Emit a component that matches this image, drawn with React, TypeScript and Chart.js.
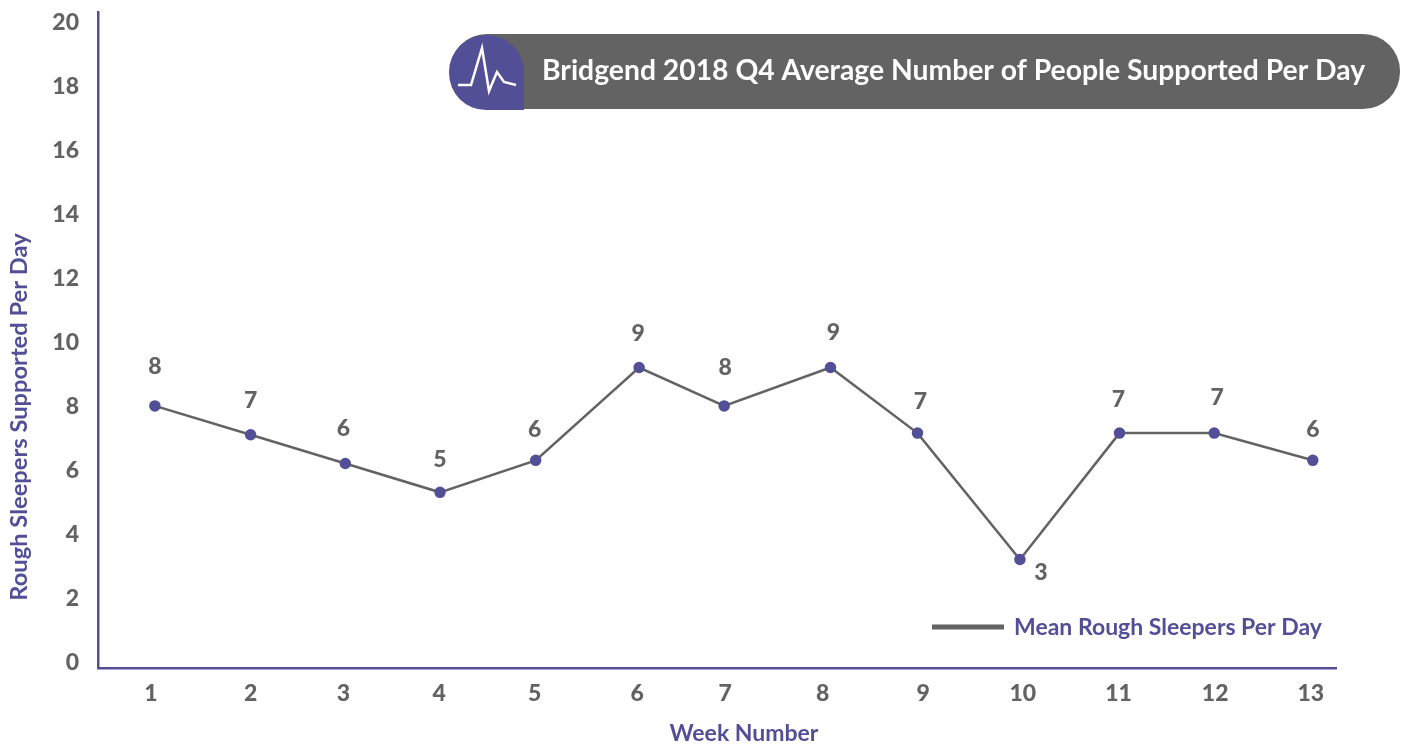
import React, { useEffect, useRef } from "react";
import { Chart, registerables } from "chart.js";

Chart.register(...registerables);

const chartTitle = "Bridgend 2018 Q4 Average Number of People Supported Per Day";
const yAxisTitle = "Rough Sleepers Supported Per Day";
const xAxisTitle = "Week Number";
const seriesName = "Mean Rough Sleepers Per Day";
// Horizontal placement in week units (the original spacing is slightly uneven).
const pointWeeks = [1.04, 2.03, 3.01, 3.99, 4.98, 6.05, 6.93, 8.03, 8.93, 9.99, 11.02, 12.0, 13.02];
const tickWeeks = [1, 2.03, 2.99, 3.98, 4.97, 6.03, 6.94, 7.95, 8.99, 10.02, 11.01, 12.01, 13];
const tickLabels = ["1", "2", "3", "4", "5", "6", "7", "8", "9", "10", "11", "12", "13"];
const meanValues = [8.0, 7.1, 6.2, 5.3, 6.3, 9.2, 8.0, 9.2, 7.15, 3.2, 7.15, 7.15, 6.3];
const valueLabels = ["8", "7", "6", "5", "6", "9", "8", "9", "7", "3", "7", "7", "6"];
const yTicks = [0, 2, 4, 6, 8, 10, 12, 14, 16, 18, 20];

const PURPLE = "#534f96";
const GREY = "#636363";
const FONT = "Lato";

const labelShift: [number, number][] = [
  [0, -39], [0, -34], [-2, -35], [0, -33], [-1, -31], [-1, -34], [1, -38], [3, -35],
  [3, -32], [21, 13], [-1, -34], [3, -36], [0, -31],
];

const decorations = {
  id: "decorations",
  afterDraw(chart: any) {
    const ctx = chart.ctx as CanvasRenderingContext2D;
    const meta = chart.getDatasetMeta(0);
    ctx.save();
    // value labels
    ctx.font = `900 23px ${FONT}`;
    ctx.fillStyle = GREY;
    ctx.textAlign = "center";
    ctx.textBaseline = "middle";
    meta.data.forEach((p: any, i: number) => {
      ctx.fillText(valueLabels[i], p.x + labelShift[i][0], p.y + labelShift[i][1]);
    });
    // axis titles
    ctx.font = `700 23px ${FONT}`;
    ctx.fillStyle = PURPLE;
    ctx.fillText(xAxisTitle, 744, 734);
    ctx.save();
    ctx.translate(19, 417);
    ctx.rotate(-Math.PI / 2);
    ctx.font = `700 23.7px ${FONT}`;
    ctx.fillText(yAxisTitle, 0, 0);
    ctx.restore();
    // legend
    ctx.strokeStyle = GREY;
    ctx.lineWidth = 5;
    ctx.beginPath();
    ctx.moveTo(932, 627);
    ctx.lineTo(1004, 627);
    ctx.stroke();
    ctx.textAlign = "left";
    ctx.font = `700 23px ${FONT}`;
    ctx.fillStyle = PURPLE;
    ctx.fillText(seriesName, 1014, 628);
    // title pill
    ctx.fillStyle = GREY;
    ctx.beginPath();
    ctx.roundRect(450, 34, 950, 75, 37);
    ctx.fill();
    ctx.fillStyle = PURPLE;
    ctx.beginPath();
    ctx.roundRect(449, 35, 75, 75, [37, 37, 0, 37]);
    ctx.fill();
    ctx.strokeStyle = "#ffffff";
    ctx.lineWidth = 2.5;
    ctx.lineJoin = "miter";
    ctx.beginPath();
    ctx.moveTo(458, 85);
    ctx.lineTo(471, 85);
    ctx.lineTo(482, 48);
    ctx.lineTo(489, 91);
    ctx.lineTo(497, 72);
    ctx.lineTo(504, 82);
    ctx.lineTo(516, 85);
    ctx.stroke();
    ctx.font = `700 28.3px ${FONT}`;
    ctx.fillStyle = "#ffffff";
    ctx.textBaseline = "middle";
    ctx.fillText(chartTitle, 542, 71);
    ctx.restore();
  },
};

export default function App() {
  const ref = useRef<HTMLCanvasElement | null>(null);
  useEffect(() => {
    document.body.style.margin = "0";
    const chart = new Chart(ref.current!, {
      type: "line",
      data: {
        datasets: [
          {
            label: seriesName,
            data: pointWeeks.map((x, i) => ({ x, y: meanValues[i] })),
            borderColor: GREY,
            borderWidth: 2.5,
            pointBackgroundColor: PURPLE,
            pointBorderColor: PURPLE,
            pointRadius: 4.5,
            tension: 0,
          },
        ],
      },
      options: {
        animation: false,
        responsive: false,
        layout: { padding: { top: 12, right: 67, left: 0, bottom: 0 } },
        plugins: { legend: { display: false }, title: { display: false }, tooltip: { enabled: false } },
        scales: {
          x: {
            type: "linear",
            min: 0.4514,
            max: 13.26,
            afterBuildTicks: (s: any) => {
              s.ticks = tickWeeks.map((value) => ({ value }));
            },
            afterFit: (s: any) => {
              s.height = 76;
              s.paddingLeft = 0;
              s.paddingRight = 0;
            },
            grid: { display: false, drawTicks: false },
            border: { display: true, color: PURPLE, width: 2.5 },
            ticks: {
              autoSkip: false,
              maxRotation: 0,
              padding: 12,
              color: GREY,
              font: { family: FONT, size: 23, weight: "900" },
              callback: (_v: any, i: number) => tickLabels[i],
            },
          },
          y: {
            type: "linear",
            min: -0.19,
            max: 20.31,
            afterBuildTicks: (s: any) => {
              s.ticks = yTicks.map((value) => ({ value }));
            },
            afterFit: (s: any) => {
              s.width = 98;
              s.paddingTop = 0;
              s.paddingBottom = 0;
            },
            grid: { display: false, drawTicks: false },
            border: { display: true, color: PURPLE, width: 2.5 },
            ticks: {
              padding: 19,
              labelOffset: 1,
              color: GREY,
              font: { family: FONT, size: 23, weight: "900" },
            },
          },
        },
      },
      plugins: [decorations],
    } as any);
    return () => chart.destroy();
  }, []);
  return <canvas ref={ref} width={1403} height={744} style={{ display: "block" }} />;
}
